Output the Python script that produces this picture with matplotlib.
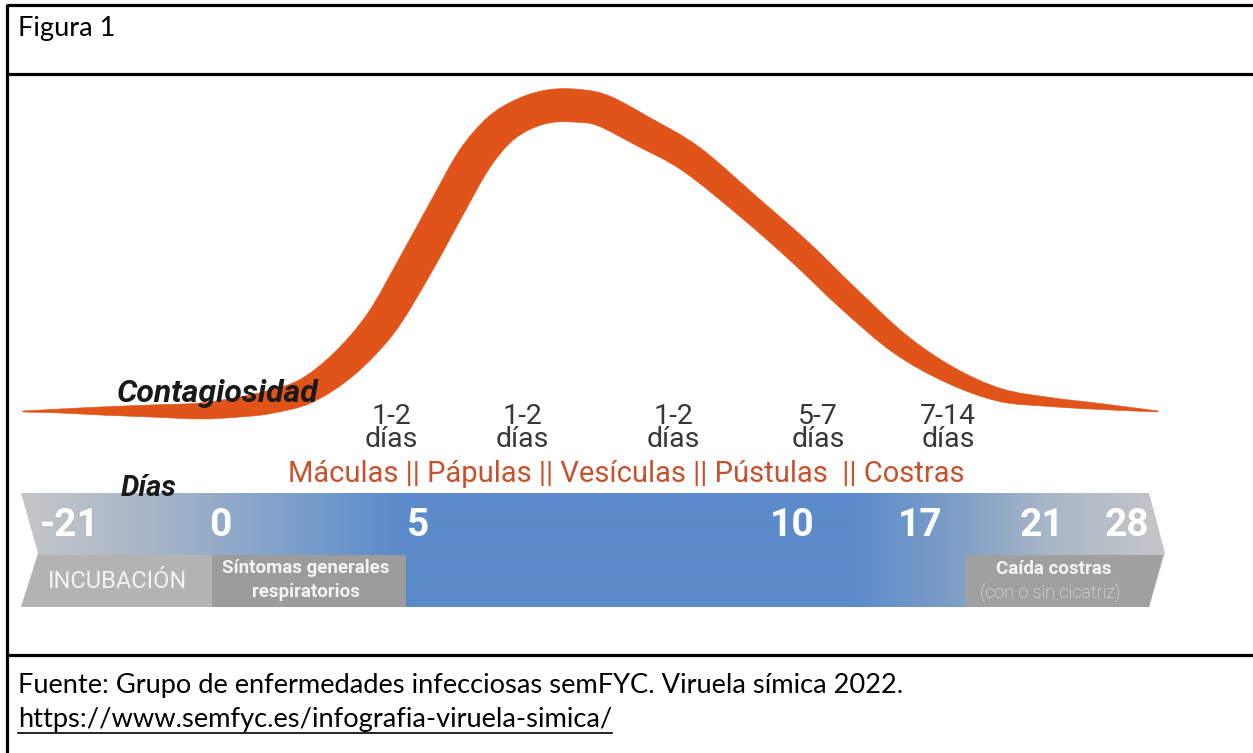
import numpy as np
import matplotlib
matplotlib.use("Agg")
import matplotlib.pyplot as plt
from matplotlib.patches import Polygon, PathPatch
from matplotlib.path import Path
from matplotlib.colors import to_rgb

# contagiousness band: centre line and thickness (image pixel space)
curve_x = [23, 60, 100, 150, 200, 240, 270, 306, 344, 381, 415, 448, 474, 499, 524,
           551, 580, 604, 642, 691, 750, 800, 850, 900, 950, 1000, 1050, 1100, 1158]
curve_y = [411.5, 411, 411, 411, 411, 407, 402, 391, 364, 323, 266, 206, 160, 130, 114,
           106, 106, 111, 131, 159, 208, 252, 300, 344, 375, 395, 402, 406.5, 411.5]
curve_w = [1, 4, 8, 12, 16, 20, 23, 26, 30, 33, 35, 35, 35, 34, 33,
           33, 33, 32, 31, 29, 26, 26, 25, 22, 17, 13, 9, 6, 1]

day_labels = ["-21", "0", "5", "10", "17", "21", "28"]
day_pos = [70, 220, 418, 792, 920, 1042, 1127]

stage_durations = ["1-2\ndías", "1-2\ndías", "1-2\ndías", "5-7\ndías", "7-14\ndías"]
stage_pos = [391, 522, 673, 818, 948]
stages_text = "Máculas || Pápulas || Vesículas || Pústulas  || Costras"

source_text = "Fuente: Grupo de enfermedades infecciosas semFYC. Viruela símica 2022."
source_url = "https://www.semfyc.es/infografia-viruela-simica/"

orange = "#e0541a"
orange_txt = "#c8502a"


def smooth_verts(pts):
    # catmull-rom -> cubic bezier pieces
    verts, codes = [pts[0]], [Path.MOVETO]
    n = len(pts)
    for i in range(n - 1):
        p0 = pts[max(i - 1, 0)]
        p1 = pts[i]
        p2 = pts[i + 1]
        p3 = pts[min(i + 2, n - 1)]
        verts += [p1 + (p2 - p0) / 6, p2 - (p3 - p1) / 6, p2]
        codes += [Path.CURVE4] * 3
    return verts, codes


fig = plt.figure(figsize=(12.53, 7.53), dpi=100)
ax = fig.add_axes([0, 0, 1, 1])
ax.set_xlim(0, 1253)
ax.set_ylim(753, 0)
ax.axis("off")

# table lines
for yy in [5, 74, 655]:
    ax.plot([7, 1253], [yy, yy], color="black", lw=2.3, solid_capstyle="butt")
ax.plot([7, 7], [4, 753], color="black", lw=2.3, solid_capstyle="butt")

doc_size = 19.6
ax.text(18, 28, "Figura 1", fontsize=doc_size, family="Lato", va="center", ha="left")

# curve as a band of varying width around the centre line
cx = np.array(curve_x, float)
cy = np.array(curve_y, float)
hw = np.array(curve_w, float) / 2
dx, dy = np.gradient(cx), np.gradient(cy)
L = np.hypot(dx, dy)
nx, ny = -dy / L, dx / L
top = np.column_stack([cx - nx * hw, cy - ny * hw])
bot = np.column_stack([cx + nx * hw, cy + ny * hw])
v1, c1 = smooth_verts(list(top))
v2, c2 = smooth_verts(list(bot[::-1]))
c2[0] = Path.LINETO
band = Path(np.array(v1 + v2 + [v1[0]]), c1 + c2 + [Path.CLOSEPOLY])
ax.add_patch(PathPatch(band, fc=orange, ec=orange, lw=0.4, zorder=2))

# arrow bar with gradient
arrow = Polygon([(21, 493), (1149, 493), (1165, 553), (1149, 607), (21, 607), (38, 553)],
                closed=True, fc="none", ec="none")
ax.add_patch(arrow)
stops_x = [21, 120, 220, 330, 400, 850, 960, 1050, 1165]
stops_c = ["#c4c6c9", "#afbac7", "#93abc9", "#7099cb", "#5b8bca", "#5b8bca",
           "#7f9fc6", "#a9b7c7", "#c6c6c7"]
xs = np.arange(0, 1253)
rgb = np.array([to_rgb(c) for c in stops_c])
grad = np.stack([np.interp(xs, stops_x, rgb[:, k]) for k in range(3)], axis=-1)[None, :, :]
im = ax.imshow(grad, extent=[0, 1253, 607, 493], aspect="auto", zorder=1,
               interpolation="bilinear")
im.set_clip_path(arrow)
ax.set_xlim(0, 1253)
ax.set_ylim(753, 0)

boxes = [
    ([(38, 555), (212, 555), (212, 607), (21, 607)], "#b3b3b3"),
    ([(212, 555), (406, 555), (406, 607), (212, 607)], "#9c9c9c"),
    ([(965, 555), (1163, 555), (1149, 607), (965, 607)], "#a0a0a0"),
]
for pts, c in boxes:
    ax.add_patch(Polygon(pts, closed=True, fc=c, ec="none", zorder=2))

for lab, px in zip(day_labels, day_pos):
    ax.text(px, 526, lab, color="white", fontsize=28, family="Roboto", weight="bold",
            ha="center", va="center", zorder=3)

ax.text(117, 582, "INCUBACIÓN", color="#f2f2f2", fontsize=17, family="Roboto",
        ha="center", va="center", zorder=3)
ax.text(306, 568, "Síntomas generales", color="#f4f4f4", fontsize=13.5, family="Roboto",
        weight="bold", ha="center", va="center", zorder=3)
ax.text(306, 592, "respiratorios", color="#f4f4f4", fontsize=13.5, family="Roboto",
        weight="bold", ha="center", va="center", zorder=3)
ax.text(1054, 569, "Caída costras", color="#f4f4f4", fontsize=13.5, family="Roboto",
        weight="bold", ha="center", va="center", zorder=3)
ax.text(1050, 593, "(con o sin cicatriz)", color="#f0f0f0", fontsize=13, family="Roboto",
        weight="light", ha="center", va="center", zorder=3)

ax.text(117, 393, "Contagiosidad", fontsize=23, family="Roboto", weight="bold",
        style="italic", color="#1a1a1a", ha="left", va="center", zorder=4)
ax.text(121, 488, "Días", fontsize=21, family="Roboto", weight="bold",
        style="italic", color="#1a1a1a", ha="left", va="center", zorder=4)

for lab, px in zip(stage_durations, stage_pos):
    ax.text(px, 428, lab, fontsize=20.5, family="Roboto", weight="normal", color="#383838",
            ha="center", va="center", linespacing=0.85, zorder=4)

ax.text(288, 474, stages_text, fontsize=21, family="Roboto", color=orange_txt,
        ha="left", va="center", zorder=4)

# footer
ax.text(18, 686, source_text, fontsize=doc_size, family="Lato", ha="left", va="center")
url = ax.text(18, 719, source_url, fontsize=doc_size, family="Lato", ha="left", va="center")
fig.canvas.draw()
bb = url.get_window_extent(renderer=fig.canvas.get_renderer())
ax.plot([bb.x0, bb.x1], [733, 733], color="black", lw=1.2)

fig.savefig("out.png", dpi=100)
